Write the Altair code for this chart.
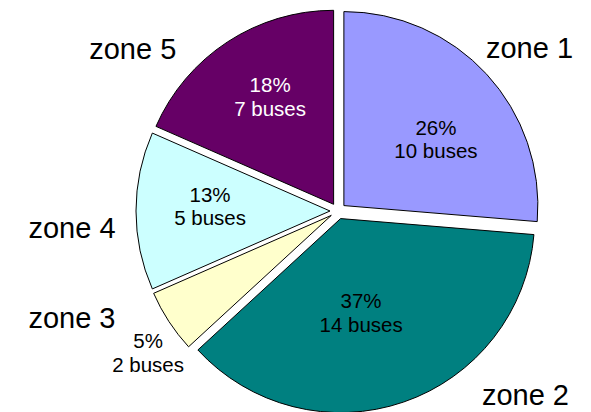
import math
import altair as alt
import pandas as pd

# ---- data ----
zones = ["zone 1", "zone 2", "zone 3", "zone 4", "zone 5"]
buses = [10, 14, 2, 5, 7]

# ---- styles ----
slice_colors = ["#9999FF", "#008080", "#FFFFCC", "#CCFFFF", "#660066"]
value_text_colors = ["black", "black", "black", "black", "white"]
FONT = "Liberation Sans"
NAME_SIZE = 29
VALUE_SIZE = 20.5

# ---- layout (pixels, chart coordinates) ----
W, H = 575, 404
CX, CY = 330, 203          # pie centre
R = 194                    # pie radius
EXPLODE = 8                # outward shift of every slice
# value labels: first-line baseline, polar (deg clockwise from 12 o'clock, fraction of R) from slice centre
value_label_angle = [52.4, 167.1, 234.1, 274.3, 330.5]
value_label_rfrac = [0.599, 0.473, 1.166, 0.620, 0.665]
# category labels: baseline, polar (deg, px) from pie centre
name_label_angle = [51.3, 136.0, 246.3, 264.2, 306.6]
name_label_dist = [245.4, 269.8, 290.6, 267.4, 255.7]

total = sum(buses)
df = pd.DataFrame({
    "zone": zones,
    "buses": buses,
    "idx": list(range(len(zones))),
    "tcol": value_text_colors,
    "va": value_label_angle,
    "vr": value_label_rfrac,
    "na": name_label_angle,
    "nd": name_label_dist,
})
df["label"] = [f"{round(b / total * 100)}%\n{b} buses" for b in buses]

base = alt.Chart(df).transform_joinaggregate(
    total="sum(buses)"
).transform_window(
    cum="sum(buses)", sort=[alt.SortField("idx")], frame=[None, 0]
).transform_calculate(
    mid="(datum.cum - datum.buses / 2) / datum.total * 2 * PI",
    ex=f"{CX} + {EXPLODE} * sin(datum.mid)",
    ey=f"{CY} - {EXPLODE} * cos(datum.mid)",
    lx=f"datum.ex + datum.vr * {R} * sin(datum.va * PI / 180)",
    ly=f"datum.ey - datum.vr * {R} * cos(datum.va * PI / 180)",
    nx=f"{CX} + datum.nd * sin(datum.na * PI / 180)",
    ny=f"{CY} - datum.nd * cos(datum.na * PI / 180)",
)

slices = base.mark_arc(
    outerRadius=R, stroke="black", strokeWidth=1
).encode(
    theta=alt.Theta("buses:Q", stack=True),
    order=alt.Order("idx:Q"),
    color=alt.Color("zone:N", scale=alt.Scale(domain=zones, range=slice_colors), legend=None),
    x=alt.X("ex:Q", scale=None),
    y=alt.Y("ey:Q", scale=None),
)

values = base.mark_text(
    font=FONT, fontSize=VALUE_SIZE, lineBreak="\n", lineHeight=23.5,
    align="center", baseline="alphabetic"
).encode(
    x=alt.X("lx:Q", scale=None),
    y=alt.Y("ly:Q", scale=None),
    text="label:N",
    color=alt.Color("tcol:N", scale=None),
)

names = base.mark_text(
    font=FONT, fontSize=NAME_SIZE, align="center", baseline="alphabetic", color="black"
).encode(
    x=alt.X("nx:Q", scale=None),
    y=alt.Y("ny:Q", scale=None),
    text="zone:N",
)

chart = alt.layer(slices, values, names).properties(
    width=W, height=H, padding=0,
    autosize=alt.AutoSizeParams(type="none"),
).configure_view(stroke=None)

chart.save("out.html", embed_options={"renderer": "svg", "actions": False})
